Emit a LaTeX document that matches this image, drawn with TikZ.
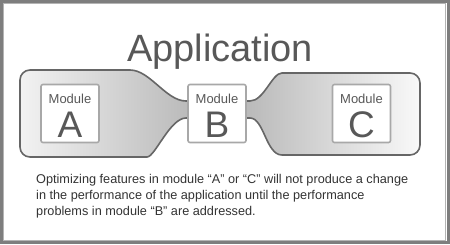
\documentclass[tikz,border=0pt]{standalone}
\usepackage{fontspec}
\setmainfont{Liberation Sans}
\usetikzlibrary{positioning}
\definecolor{framegray}{HTML}{7E7E7E}
\definecolor{frameinner}{HTML}{B4B4B4}
\definecolor{blobedge}{HTML}{666666}
\definecolor{boxedge}{HTML}{A8A8A8}
\definecolor{titlegray}{HTML}{585858}
\definecolor{textgray}{HTML}{333333}
\tikzset{
  frame/.style={draw=framegray, line width=3pt},
  blob/.style={draw=blobedge, line width=1.6pt, left color=gray!10, right color=gray!5, middle color=gray!62},
  modbox/.style={draw=boxedge, line width=1.6pt, fill=white, rounded corners=2pt,
    minimum width=58pt, minimum height=58pt, inner sep=0pt},
  modname/.style={font=\fontsize{13}{13}\selectfont, text=titlegray, inner sep=0pt, anchor=base},
  modletter/.style={font=\fontsize{37}{37}\selectfont, text=titlegray, inner sep=0pt, anchor=base},
}

\begin{document}
\begin{tikzpicture}[x=1pt, y=-1pt]
  \useasboundingbox (0,0) rectangle (450,244);
  % outer frame
  \draw[frame] (1.5,1.5) rectangle (448,242.5);
  \draw[frameinner, line width=0.8pt] (3.6,3.3) rectangle (445.6,240.6);

  \node[font=\fontsize{38}{38}\selectfont, text=titlegray, inner sep=0pt, anchor=base]
    (title) at (220,61) {Application};

  % the two lobes joined by the neck behind module B
  \draw[blob, rounded corners=10pt] (130,70) -- (20,70) -- (20,157) -- (137,157)
    [sharp corners] .. controls (155,157) and (170,118) .. (186,118) -- (250,118)
    .. controls (264,118) and (266,155) .. (282,155)
    [rounded corners=10pt] -- (420,155) -- (420,73) -- (292,73)
    [sharp corners] .. controls (272,73) and (264,101) .. (250,101) -- (186,101)
    .. controls (166,101) and (150,70) .. (130,70) -- cycle;

  \foreach \x/\m in {70/A, 217/B, 361.5/C} {
    \node[modbox] (box\m) at (\x,113.5) {};
    \node[modname] (name\m) at (\x,103) {Module};
    \node[modletter] (letter\m) at (\x,137) {\m};
  }

  % base of a multi-line node is the last line
  \node[anchor=base west, align=left, inner sep=0pt, text=textgray,
    font=\fontsize{12.7}{16}\selectfont] (note) at (36,215)
    {Optimizing features in module “A” or “C” will not produce a change\\
     in the performance of the application until the performance\\
     problems in module “B” are addressed.};
\end{tikzpicture}
\end{document}
